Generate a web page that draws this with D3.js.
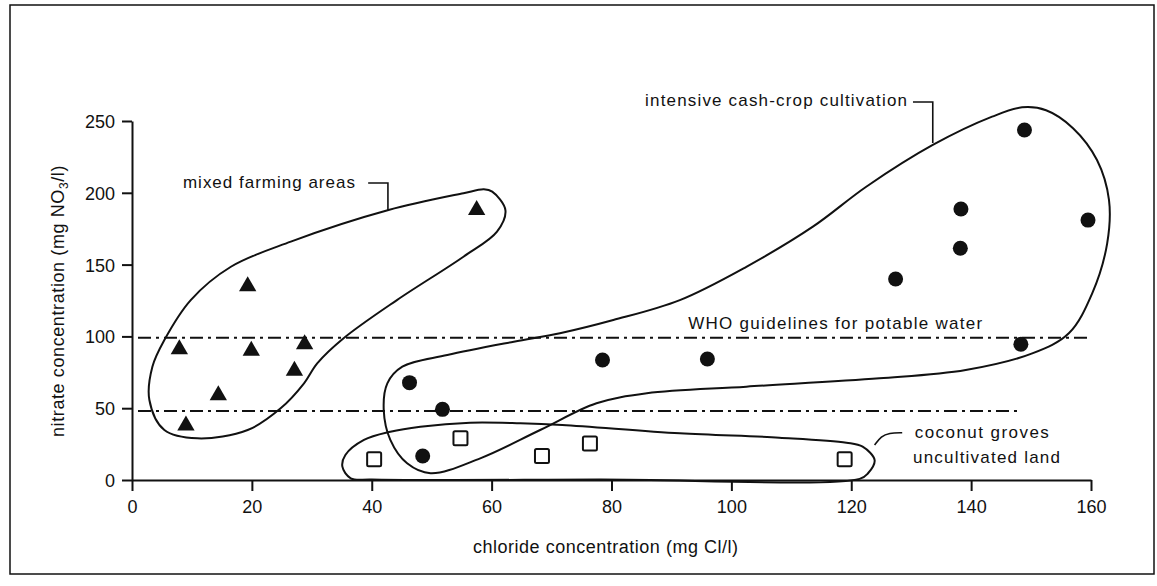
<!DOCTYPE html>
<html>
<head>
<meta charset="utf-8">
<script src="https://cdn.jsdelivr.net/npm/d3@7/dist/d3.min.js"></script>
<style>
  html, body { margin: 0; padding: 0; background: #fff; }
  svg { display: block; font-family: "Liberation Sans", Arial, sans-serif; }
</style>
</head>
<body>
<div id="chart"></div>
<script>
// chloride (mg Cl/l), nitrate (mg NO3/l)
const xTicks = [0, 20, 40, 60, 80, 100, 120, 140, 160];
const yTicks = [0, 50, 100, 150, 200, 250];

const mixedFarming = [[57.5, 188], [19.3, 135], [7.9, 91], [19.9, 90], [28.8, 94.5],
    [27.1, 76], [14.4, 59], [9.0, 38]];
const cashCrop = [[46.3, 67.8], [51.8, 49.2], [48.5, 16.7], [78.5, 83.6], [96.0, 84.3],
    [148.9, 243.7], [138.3, 188.7], [159.5, 181], [138.2, 161.4], [127.4, 140], [148.3, 94.5]];
const coconutGroves = [[40.4, 14.4], [54.8, 29], [68.4, 16.7], [76.4, 25.5], [118.9, 14.4]];

// WHO guideline levels and where each dash-dot line stops
const guideLevels = [99, 48];
const guideEnds = [160, 148];

// hand-drawn group outlines (data units)
const mixedOutline = [[60.1, 200.8], [62.3, 188], [60.9, 172.9], [55.3, 155.5], [44.2, 125.3],
    [35.3, 98.7], [30.9, 81.2], [28.7, 67.3], [24.8, 49.9], [19.3, 34.8], [10.9, 29], [5.4, 34.8],
    [2.9, 55.7], [3.4, 78.9], [5.4, 97.5], [9.8, 125.3], [16.5, 148.5], [26.5, 166], [42.8, 188],
    [55.3, 199.7], [58.7, 202.4]];
const cashOutline = [[45.1, 78.9], [42.6, 67.3], [42.0, 48.7], [43.1, 27.9], [45.9, 11.6],
    [49.8, 4.7], [58.1, 15.1], [68.1, 34.8], [77.5, 53.4], [85.9, 60.4], [102.5, 65.0],
    [124.7, 70.8], [139.1, 76.6], [150.2, 88.2], [156.3, 102.2], [160.2, 130], [162.7, 164.8],
    [163.0, 195], [161.0, 222.8], [157.0, 245], [152.5, 257.5], [148.5, 259.5], [143.5, 253],
    [133.6, 233.3], [122.5, 204.2], [113.6, 176.4], [102.5, 148.5], [91.4, 125.3], [80.3, 111.4],
    [71.4, 102.2], [63.7, 96.3], [52.6, 87]];
const coconutOutline = [[35.1, 9.3], [35.6, 17.4], [38.7, 27.9], [43.1, 33.6], [48.1, 37.1],
    [56.4, 39.9], [64.8, 39.5], [71.8, 38.3], [91.4, 32.5], [108, 29.5], [119.2, 26],
    [121.9, 23.2], [123.9, 13.9], [122.8, 4.7], [121.4, 0.8], [78, 0.3], [40, 0.3], [36.5, 1.2]];

// leader lines from the labels to the outlines
const mixedLeader = [[39.4, 206.8], [42.7, 206.8], [42.7, 188]];
const cashLeader = [[130.3, 263.2], [133.6, 263.2], [133.6, 234.7]];
const coconutLeader = [[123.9, 24.4], [125.0, 30.5], [126.3, 32.8], [128.5, 32.9]];

const labels = [
    { text: 'mixed farming areas', x: 8.5, y: 203.3, len: 172 },
    { text: 'intensive cash-crop cultivation', x: 85.6, y: 260.4, len: 262 },
    { text: 'WHO guidelines for potable water', x: 92.8, y: 105.2, len: 294 },
    { text: 'coconut groves', x: 130.6, y: 29.2, len: 134 },
    { text: 'uncultivated land', x: 130.3, y: 11.8, len: 147 }
];

const width = 1157, height = 586;
const ink = '#111';

const svg = d3.select('#chart').append('svg')
    .attr('width', width)
    .attr('height', height)
    .style('background', '#fff');

const x = d3.scaleLinear().domain([0, 160]).range([132, 1091]);
const y = d3.scaleLinear().domain([0, 250]).range([480, 121]);

// outer frame
svg.append('rect')
    .attr('x', 10).attr('y', 5)
    .attr('width', 1144).attr('height', 569)
    .attr('fill', 'none')
    .attr('stroke', ink)
    .attr('stroke-width', 1.5);

// axes
const xAxis = svg.append('g')
    .attr('transform', `translate(0,${y(0)})`)
    .call(d3.axisBottom(x).tickValues(xTicks).tickSize(11).tickSizeOuter(0).tickPadding(9));
const yAxis = svg.append('g')
    .attr('transform', `translate(${x(0)},0)`)
    .call(d3.axisLeft(y).tickValues(yTicks).tickSize(10).tickSizeOuter(0).tickPadding(7));

[xAxis, yAxis].forEach(g => {
    g.select('.domain').attr('stroke', ink).attr('stroke-width', 2);
    g.selectAll('.tick line').attr('stroke', ink).attr('stroke-width', 2);
    g.selectAll('.tick text')
        .attr('fill', ink)
        .attr('font-size', 18)
        .attr('font-family', '"Liberation Sans", Arial, sans-serif');
});
yAxis.selectAll('.tick text').attr('dy', '0.36em');

// axis titles
svg.append('text')
    .attr('x', 473).attr('y', 553)
    .attr('font-size', 18)
    .attr('fill', ink)
    .attr('textLength', 265)
    .attr('lengthAdjust', 'spacing')
    .text('chloride concentration (mg Cl/l)');

const yTitle = svg.append('text')
    .attr('transform', 'translate(64,437) rotate(-90)')
    .attr('font-size', 18)
    .attr('letter-spacing', 0.6)
    .attr('fill', ink);
yTitle.append('tspan').text('nitrate concentration (mg NO');
yTitle.append('tspan').attr('font-size', 12).attr('dy', 4).text('3');
yTitle.append('tspan').attr('dy', -4).text('/l)');

// WHO guideline lines
svg.append('g').selectAll('line')
    .data(guideLevels)
    .join('line')
    .attr('x1', x(1))
    .attr('x2', (d, i) => x(guideEnds[i]))
    .attr('y1', d => y(d))
    .attr('y2', d => y(d))
    .attr('stroke', ink)
    .attr('stroke-width', 2)
    .attr('stroke-dasharray', '13,5,3,5');

// outlines
const outline = d3.line()
    .x(d => x(d[0]))
    .y(d => y(d[1]))
    .curve(d3.curveCatmullRomClosed.alpha(0.5));

svg.append('g').selectAll('path')
    .data([mixedOutline, cashOutline, coconutOutline])
    .join('path')
    .attr('d', outline)
    .attr('fill', 'none')
    .attr('stroke', ink)
    .attr('stroke-width', 2);

const leader = d3.line().x(d => x(d[0])).y(d => y(d[1]));
svg.append('g').selectAll('path')
    .data([mixedLeader, cashLeader])
    .join('path')
    .attr('d', leader)
    .attr('fill', 'none')
    .attr('stroke', ink)
    .attr('stroke-width', 1.6);
svg.append('path')
    .attr('d', leader.curve(d3.curveBasis)(coconutLeader))
    .attr('fill', 'none')
    .attr('stroke', ink)
    .attr('stroke-width', 1.6);

// points
svg.append('g').selectAll('path')
    .data(mixedFarming)
    .join('path')
    .attr('transform', d => `translate(${x(d[0])},${y(d[1])})`)
    .attr('d', d3.symbol(d3.symbolTriangle, 130))
    .attr('fill', ink);

svg.append('g').selectAll('circle')
    .data(cashCrop)
    .join('circle')
    .attr('cx', d => x(d[0]))
    .attr('cy', d => y(d[1]))
    .attr('r', 7.5)
    .attr('fill', ink);

svg.append('g').selectAll('rect')
    .data(coconutGroves)
    .join('rect')
    .attr('x', d => x(d[0]) - 7)
    .attr('y', d => y(d[1]) - 7)
    .attr('width', 14)
    .attr('height', 14)
    .attr('rx', 1.5)
    .attr('fill', '#fff')
    .attr('stroke', ink)
    .attr('stroke-width', 2);

// annotation text
svg.append('g').selectAll('text')
    .data(labels)
    .join('text')
    .attr('x', d => x(d.x))
    .attr('y', d => y(d.y))
    .attr('font-size', 17)
    .attr('fill', ink)
    .attr('textLength', d => d.len)
    .attr('lengthAdjust', 'spacing')
    .text(d => d.text);
</script>
</body>
</html>
